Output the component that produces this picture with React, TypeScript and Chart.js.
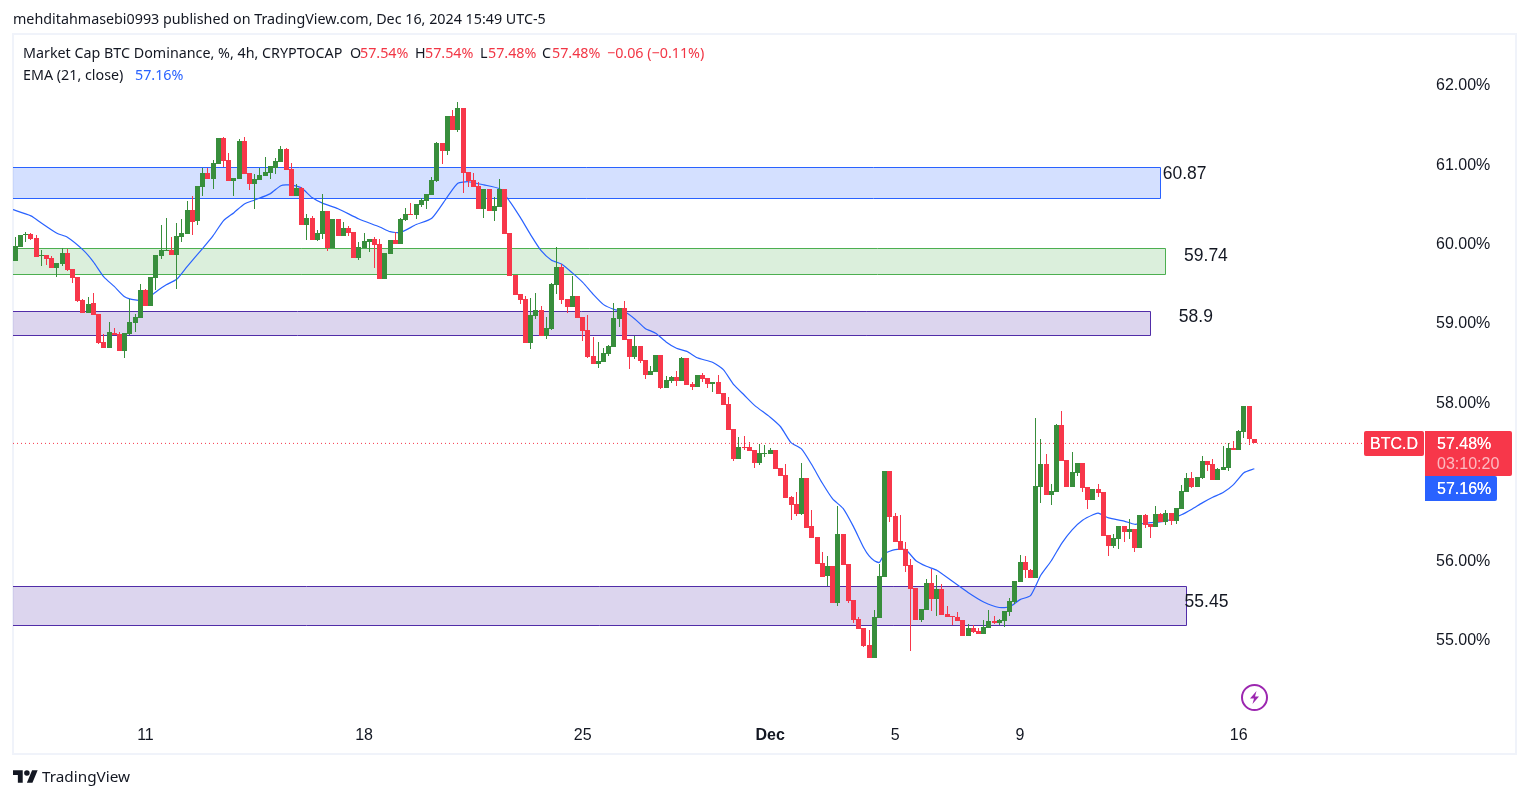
import React, { useEffect, useRef } from "react";
import { Chart, registerables } from "chart.js";

Chart.register(...registerables);

const opens = [
  59.78,59.96,60.11,60.12,60.07,59.84,59.86,59.82,59.69,59.74,
  59.88,59.68,59.58,59.29,59.13,59.25,59.11,58.76,58.68,58.87,
  58.86,58.65,58.86,59.00,59.06,59.41,59.21,59.57,59.84,59.91,
  59.92,59.86,60.08,60.12,60.42,60.29,60.71,60.89,60.81,61.00,
  61.33,61.05,60.79,60.81,61.29,60.89,60.75,60.80,60.85,60.89,
  60.95,61.03,61.19,60.94,60.60,60.70,60.23,60.32,60.05,60.12,
  60.41,59.94,60.31,60.10,60.20,60.15,59.82,59.94,60.02,60.06,
  60.00,59.55,59.87,60.05,60.00,60.30,60.37,60.36,60.49,60.54,
  60.61,60.79,61.27,61.17,61.61,61.43,61.71,60.90,60.80,60.73,
  60.44,60.69,60.41,60.46,60.69,60.13,59.60,59.36,59.30,58.75,
  59.09,59.16,58.83,58.92,59.48,59.70,59.30,59.20,59.34,59.07,
  58.91,58.58,58.48,58.51,58.61,58.70,59.05,59.19,58.80,58.57,
  58.71,58.53,58.34,58.38,58.60,58.18,58.27,58.32,58.27,58.56,
  58.23,58.19,58.34,58.31,58.23,58.25,58.12,57.98,57.66,57.28,
  57.44,57.44,57.40,57.23,57.35,57.35,57.40,57.17,57.08,56.81,
  56.72,56.59,57.04,56.44,56.30,55.97,55.81,55.93,55.47,56.34,
  55.96,55.51,55.27,55.15,54.94,54.77,55.28,55.80,57.13,56.56,
  56.25,56.15,55.95,55.66,55.25,55.38,55.72,55.52,55.64,55.33,
  55.30,55.29,55.25,55.05,55.15,55.11,55.08,55.15,55.24,55.21,
  55.24,55.35,55.48,55.73,55.98,55.88,55.78,56.93,57.22,56.83,
  56.87,57.71,57.27,56.93,57.11,57.23,56.93,56.77,56.91,56.87,
  56.32,56.19,56.27,56.44,56.36,56.40,56.16,56.58,56.46,56.43,
  56.59,56.49,56.60,56.50,56.65,56.87,57.04,56.93,57.04,57.26,
  57.22,57.02,57.15,57.17,57.42,57.40,57.62,57.95,57.54,
];
const highs = [
  60.08,60.11,60.15,60.13,60.11,59.92,59.86,59.84,59.76,59.94,
  59.93,59.68,59.58,59.30,59.33,59.38,59.11,58.86,59.01,58.94,
  58.89,58.87,59.30,59.11,59.49,59.43,59.58,59.86,60.23,60.32,
  60.08,60.26,60.31,60.54,60.60,60.73,60.95,60.95,61.05,61.33,
  61.34,61.14,60.83,61.32,61.34,60.89,60.88,60.95,61.09,60.98,
  61.08,61.23,61.20,61.02,60.75,60.71,60.37,60.35,60.17,60.63,
  60.41,60.31,60.31,60.27,60.22,60.15,60.02,60.13,60.06,60.08,
  60.06,59.88,60.05,60.15,60.32,60.45,60.51,60.50,60.58,60.63,
  60.84,61.28,61.27,61.61,61.68,61.79,61.71,60.90,60.89,60.78,
  60.69,60.69,60.59,60.81,60.69,60.13,59.60,59.36,59.34,59.31,
  59.38,59.21,59.07,59.50,59.96,59.74,59.30,59.59,59.34,59.07,
  59.10,58.82,58.76,58.68,58.72,59.25,59.19,59.28,58.80,58.83,
  58.71,58.53,58.46,58.60,58.60,58.33,58.33,58.39,58.57,58.56,
  58.25,58.34,58.37,58.31,58.25,58.34,58.12,58.07,57.66,57.56,
  57.57,57.50,57.40,57.47,57.46,57.42,57.40,57.17,57.22,56.82,
  56.87,57.23,57.04,56.64,56.30,56.11,56.06,55.93,56.69,56.34,
  55.96,55.51,55.29,55.15,55.13,55.38,55.96,57.13,57.13,56.60,
  56.58,56.24,56.02,55.66,55.39,55.77,55.90,55.82,55.71,55.43,
  55.30,55.35,55.25,55.20,55.19,55.15,55.25,55.38,55.30,55.27,
  55.37,55.53,55.74,56.07,56.06,55.90,57.80,57.54,57.35,56.97,
  57.72,57.89,57.27,57.37,57.23,57.23,56.93,56.91,56.97,56.87,
  56.32,56.34,56.44,56.44,56.53,56.40,56.58,56.59,56.46,56.69,
  56.60,56.64,56.60,56.67,56.96,57.11,57.12,57.06,57.32,57.26,
  57.28,57.17,57.45,57.48,57.51,57.65,57.95,57.95,57.54,
];
const lows = [
  59.78,59.96,60.02,60.05,59.83,59.72,59.73,59.69,59.58,59.72,
  59.65,59.50,59.26,59.13,59.13,59.10,58.73,58.68,58.68,58.85,
  58.65,58.56,58.85,58.89,59.06,59.21,59.21,59.41,59.81,59.91,
  59.86,59.43,60.02,60.12,60.11,60.23,60.60,60.81,60.69,61.00,
  60.97,60.79,60.60,60.81,60.88,60.68,60.44,60.80,60.85,60.81,
  60.88,61.03,60.93,60.60,60.60,60.23,60.05,60.05,60.03,60.06,
  59.91,59.94,60.10,60.10,60.10,59.82,59.79,59.94,59.89,59.69,
  59.55,59.55,59.87,60.00,60.00,60.29,60.36,60.31,60.46,60.44,
  60.61,60.78,61.00,61.12,61.43,61.41,60.64,60.71,60.71,60.44,
  60.32,60.41,60.29,60.46,60.12,59.59,59.35,59.24,58.75,58.67,
  59.05,58.83,58.80,58.91,59.36,59.24,59.13,59.20,59.06,58.77,
  58.56,58.48,58.43,58.51,58.58,58.70,58.95,58.79,58.42,58.54,
  58.49,58.29,58.34,58.38,58.17,58.18,58.24,58.20,58.27,58.22,
  58.15,58.19,58.25,58.18,58.13,58.10,57.97,57.65,57.26,57.28,
  57.40,57.39,57.17,57.21,57.31,57.35,57.16,57.07,56.79,56.51,
  56.57,56.58,56.41,56.29,55.96,55.80,55.68,55.47,55.43,55.95,
  55.47,55.21,55.14,54.91,54.77,54.77,55.28,55.80,56.49,56.24,
  56.14,55.86,54.86,55.25,55.23,55.38,55.37,55.30,55.32,55.29,
  55.19,55.24,55.05,55.05,55.09,55.08,55.08,55.15,55.20,55.19,
  55.17,55.30,55.45,55.73,55.78,55.78,55.78,56.73,56.83,56.70,
  56.87,57.26,56.93,56.93,57.07,56.87,56.65,56.77,56.81,56.31,
  56.06,56.16,56.15,56.24,56.27,56.11,56.16,56.41,56.29,56.43,
  56.49,56.45,56.45,56.46,56.65,56.87,56.92,56.93,57.03,57.13,
  57.02,57.02,57.15,57.13,57.40,57.40,57.55,57.46,57.48,
];
const closes = [
  59.97,60.11,60.12,60.06,59.83,59.86,59.81,59.69,59.76,59.88,
  59.67,59.57,59.28,59.13,59.24,59.10,58.75,58.68,58.89,58.85,
  58.65,58.87,59.01,59.07,59.41,59.21,59.58,59.86,59.92,59.92,
  59.86,60.10,60.13,60.42,60.27,60.73,60.89,60.81,61.02,61.33,
  61.04,60.79,60.83,61.29,60.88,60.75,60.81,60.87,60.90,60.98,
  61.04,61.19,60.93,60.60,60.70,60.23,60.32,60.05,60.13,60.41,
  59.94,60.31,60.10,60.20,60.13,59.82,59.96,60.03,60.06,59.98,
  59.55,59.88,60.05,60.00,60.31,60.37,60.36,60.50,60.55,60.63,
  60.80,61.27,61.17,61.61,61.43,61.71,60.89,60.79,60.71,60.44,
  60.69,60.41,60.47,60.69,60.12,59.59,59.35,59.29,58.75,59.10,
  59.16,58.83,58.94,59.49,59.70,59.29,59.20,59.34,59.06,58.90,
  58.57,58.48,58.52,58.62,58.71,59.06,59.19,58.79,58.57,58.71,
  58.52,58.34,58.39,58.60,58.18,58.28,58.32,58.27,58.56,58.22,
  58.19,58.34,58.29,58.23,58.25,58.10,57.97,57.65,57.28,57.44,
  57.42,57.39,57.23,57.36,57.36,57.40,57.16,57.07,56.79,56.70,
  56.59,57.04,56.41,56.29,55.96,55.80,55.93,55.47,56.34,55.95,
  55.49,55.25,55.14,54.93,54.77,55.29,55.81,57.13,56.55,56.24,
  56.14,55.93,55.64,55.25,55.39,55.72,55.52,55.64,55.32,55.29,
  55.29,55.24,55.05,55.15,55.10,55.08,55.17,55.24,55.21,55.25,
  55.37,55.49,55.74,55.98,55.88,55.78,56.94,57.22,56.83,56.88,
  57.71,57.26,56.93,57.12,57.23,56.92,56.77,56.91,56.86,56.31,
  56.19,56.29,56.44,56.36,56.40,56.16,56.58,56.45,56.43,56.59,
  56.49,56.60,56.50,56.67,56.88,57.04,56.93,57.06,57.26,57.21,
  57.02,57.16,57.18,57.42,57.40,57.64,57.95,57.54,57.48,
];

const emaBars = [
  -1,3,5,8,10,13,15,17,19,21,23,25,27,29,31,33,36,38,40,42,44,46,49,51,53,55,57,59,62,66,70,72,74,77,80,
  83,85,87,90,93,95,97,99,101,103,105,107,109,111,113,115,117,119,121,123,125,127,129,131,134,136,138,140,
  142,145,147,149,151,153,155,157,159,161,163,164,165,166,167,169,171,173,175,177,180,183,186,189,191,193,
  195,197,199,201,203,205,207,208,210,213,215,218,221,224,226,228,230,232,234,236,238,
];
const emaValues = [
  60.44,60.35,60.26,60.13,60.08,59.92,59.77,59.58,59.46,59.33,59.29,59.29,59.39,59.48,59.55,59.71,59.94,60.10,60.29,60.39,60.50,60.55,60.63,60.73,60.74,60.70,60.58,60.51,60.44,60.31,60.21,60.15,60.14,60.24,60.32,
  60.59,60.76,60.78,60.74,60.69,60.53,60.33,60.11,59.91,59.79,59.74,59.63,59.51,59.36,59.23,59.17,59.14,59.05,58.93,58.87,58.76,58.68,58.64,58.56,58.50,58.41,58.22,58.09,
  57.96,57.81,57.69,57.49,57.41,57.21,56.98,56.78,56.66,56.43,56.16,56.06,56.00,55.98,56.09,56.14,56.14,56.00,55.93,55.88,55.74,55.60,55.48,55.41,55.42,55.51,
  55.56,55.82,56.00,56.22,56.39,56.51,56.58,56.60,56.54,56.50,56.46,56.48,56.50,56.58,56.65,56.73,56.80,56.86,56.96,57.11,57.16,
];

const priceTicks = [55, 56, 57, 58, 59, 60, 61, 62];
const dateTickBars = [25, 67, 109, 145, 169, 193, 235];
const dateTickLabels = ["11", "18", "25", "Dec", "5", "9", "16"];

const zoneTops = [60.96, 59.94, 59.14, 55.68];
const zoneBottoms = [60.57, 59.61, 58.84, 55.18];
const zoneEndBars = [219.85, 220.9, 218, 224.85];
const zoneFills = ["rgba(41,98,255,0.2)", "rgba(76,175,80,0.2)", "rgba(81,45,168,0.2)", "rgba(81,45,168,0.2)"];
const zoneBorders = ["#2962ff", "#4caf50", "#512da8", "#512da8"];
const zoneLabels = ["60.87", "59.74", "58.9", "55.45"];
const zoneLabelBars = [220.4, 224.5, 223.5, 224.6];
const zoneLabelPrices = [60.88, 59.84, 59.07, 55.48];

const lastClose = 57.48;
const UP = "#388e3c";
const DOWN = "#f7374a";
const RED_TEXT = "#f23645";
const BLUE = "#2962ff";
const FONT = "'Noto Sans', sans-serif";
const ARIAL = "'Liberation Sans', Arial, sans-serif";

function abs(style: React.CSSProperties, text: React.ReactNode) {
  return <div style={{ position: "absolute", whiteSpace: "pre", ...style }}>{text}</div>;
}

const snapBars = {
  id: "snapBars",
  beforeDatasetsDraw(chart: any) {
    for (const meta of chart.getSortedVisibleDatasetMetas()) {
      if (meta.type !== "bar") continue;
      for (const el of meta.data) {
        el.x = Math.round(el.x - 2.5) + 2.5;
        const top = Math.round(Math.min(el.y, el.base));
        let bottom = Math.round(Math.max(el.y, el.base));
        if (bottom - top < 1) bottom = top + 1;
        el.y = top;
        el.base = bottom;
      }
    }
  },
};

const zonesPlugin = {
  id: "zones",
  beforeDatasetsDraw(chart: any) {
    const { ctx, scales, chartArea } = chart;
    const x = scales.x;
    const y = scales.y;
    ctx.save();
    zoneTops.forEach((top, i) => {
      const t = Math.floor(y.getPixelForValue(top)) + 0.5;
      const b = Math.floor(y.getPixelForValue(zoneBottoms[i])) + 0.5;
      const r = Math.round(x.getPixelForValue(zoneEndBars[i])) + 0.5;
      const l = chartArea.left;
      ctx.fillStyle = zoneFills[i];
      ctx.fillRect(l, t, r - l, b - t);
      ctx.strokeStyle = zoneBorders[i];
      ctx.lineWidth = 1;
      ctx.beginPath();
      ctx.moveTo(l, t);
      ctx.lineTo(r, t);
      ctx.lineTo(r, b);
      ctx.lineTo(l, b);
      ctx.stroke();
    });
    ctx.restore();
  },
  afterDatasetsDraw(chart: any) {
    const { ctx, scales } = chart;
    ctx.save();
    ctx.font = "17.5px " + ARIAL;
    ctx.fillStyle = "#131722";
    ctx.textBaseline = "middle";
    ctx.textAlign = "left";
    zoneLabels.forEach((label, i) => {
      ctx.fillText(label, scales.x.getPixelForValue(zoneLabelBars[i]), scales.y.getPixelForValue(zoneLabelPrices[i]));
    });
    ctx.restore();
  },
};

export default function App() {
  const ref = useRef<HTMLCanvasElement>(null);
  useEffect(() => {
    document.body.style.margin = "0";
    document.body.style.overflow = "hidden";
    const bars = opens.map((_, i) => i);
    const colors = bars.map((i) => (closes[i] >= opens[i] ? UP : DOWN));
    const chart = new Chart(ref.current!, {
      type: "bar",
      data: {
        datasets: [
          {
            type: "bar",
            label: "Body",
            data: bars.map((i) => ({ x: i, y: [opens[i], closes[i]] })),
            backgroundColor: colors,
            barThickness: 5,
            grouped: false,
            inflateAmount: 0,
            order: 1,
          },
          {
            type: "bar",
            label: "Wick",
            data: bars.map((i) => ({ x: i, y: [lows[i], highs[i]] })),
            backgroundColor: colors,
            barThickness: 1,
            grouped: false,
            inflateAmount: 0,
            order: 2,
          },
          {
            type: "line",
            label: "EMA (21, close)",
            data: emaBars.map((b, i) => ({ x: b, y: emaValues[i] })),
            borderColor: BLUE,
            borderWidth: 1.2,
            pointRadius: 0,
            tension: 0.2,
            order: 3,
          },
          {
            type: "line",
            label: "Last price",
            data: [
              { x: -0.44, y: lastClose },
              { x: 259, y: lastClose },
            ],
            borderColor: DOWN,
            borderWidth: 1,
            borderDash: [1, 3],
            pointRadius: 0,
            order: 4,
          },
        ] as any,
      },
      plugins: [zonesPlugin, snapBars] as any,
      options: {
        animation: false,
        responsive: false,
        maintainAspectRatio: false,
        layout: { padding: { left: 13, top: 36, right: 12, bottom: 44 } },
        plugins: { legend: { display: false }, tooltip: { enabled: false }, title: { display: false } },
        scales: {
          x: {
            type: "linear",
            offset: false,
            min: -0.442,
            max: 270.78,
            grid: { display: false, drawTicks: false },
            border: { display: false },
            afterBuildTicks(axis: any) {
              axis.ticks = dateTickBars.map((value) => ({ value }));
            },
            afterFit(axis: any) {
              axis.height = 38;
            },
            ticks: {
              autoSkip: false,
              maxRotation: 0,
              padding: 10,
              color: "#131722",
              font: (c: any) => ({
                family: ARIAL,
                size: 16,
                weight: dateTickBars.indexOf(c.tick?.value) === 3 ? "bold" : "normal",
              }),
              callback: (v: any) => dateTickLabels[dateTickBars.indexOf(v)] ?? "",
            },
          },
          y: {
            type: "linear",
            position: "right",
            min: 54.042,
            max: 62.618,
            grid: { display: false, drawTicks: false },
            border: { display: false },
            afterBuildTicks(axis: any) {
              axis.ticks = priceTicks.map((value) => ({ value }));
            },
            afterFit(axis: any) {
              axis.width = 92;
            },
            ticks: {
              padding: 11,
              labelOffset: 1,
              color: "#131722",
              font: { family: ARIAL, size: 16 },
              callback: (v: any) => Number(v).toFixed(2) + "%",
            },
          },
        },
      } as any,
    });
    return () => chart.destroy();
  }, []);

  const base: React.CSSProperties = { fontFamily: FONT, fontSize: 14.3, color: "#131722" };
  const red: React.CSSProperties = { ...base, color: RED_TEXT, top: 43 };
  const dark: React.CSSProperties = { ...base, top: 43 };
  const tagFont: React.CSSProperties = {
    fontFamily: ARIAL,
    fontSize: 16,
    color: "#fff",
    textAlign: "left",
    lineHeight: "19px",
    textShadow: "0 0 0.6px #fff",
  };
  return (
    <div style={{ position: "absolute", left: 0, top: 0, width: 1529, height: 798, background: "#fff", overflow: "hidden" }}>
      <div
        style={{
          position: "absolute",
          left: 12,
          top: 33,
          width: 1501,
          height: 718,
          border: "2px solid #f0f3fa",
        }}
      />
      <canvas ref={ref} width={1529} height={798} style={{ position: "absolute", left: 0, top: 0, display: "block" }} />
      {abs({ ...base, left: 13, top: 9 }, "mehditahmasebi0993 published on TradingView.com, Dec 16, 2024 15:49 UTC-5")}
      {abs({ ...dark, left: 23 }, "Market Cap BTC Dominance, %, 4h, CRYPTOCAP")}
      {abs({ ...dark, left: 350 }, "O")}
      {abs({ ...red, left: 360 }, "57.54%")}
      {abs({ ...dark, left: 415 }, "H")}
      {abs({ ...red, left: 425 }, "57.54%")}
      {abs({ ...dark, left: 480 }, "L")}
      {abs({ ...red, left: 488 }, "57.48%")}
      {abs({ ...dark, left: 542 }, "C")}
      {abs({ ...red, left: 552 }, "57.48%")}
      {abs({ ...red, left: 607 }, "−0.06 (−0.11%)")}
      {abs({ ...base, left: 23, top: 65 }, "EMA (21, close)")}
      {abs({ ...base, left: 135, top: 65, color: BLUE }, "57.16%")}
      <div style={{ position: "absolute", left: 1364, top: 431, width: 60, height: 25, background: DOWN, borderRadius: 2 }} />
      <div style={{ position: "absolute", left: 1425, top: 431, width: 87, height: 45, background: DOWN, borderRadius: "0 2px 2px 0" }} />
      <div style={{ position: "absolute", left: 1425, top: 476, width: 72, height: 25, background: BLUE, borderRadius: "0 2px 2px 0" }} />
      {abs({ ...tagFont, left: 1364, top: 434, width: 60, textAlign: "center" }, "BTC.D")}
      {abs({ ...tagFont, left: 1437, top: 434 }, "57.48%")}
      {abs({ ...tagFont, left: 1437, top: 454, color: "rgba(255,255,255,0.65)", textShadow: "none" }, "03:10:20")}
      {abs({ ...tagFont, left: 1437, top: 479 }, "57.16%")}
      <svg style={{ position: "absolute", left: 1241, top: 684 }} width="27" height="27" viewBox="0 0 27 27">
        <circle cx="13.5" cy="13.5" r="12.5" fill="none" stroke="#9c27b0" strokeWidth="2" />
        <path d="M15.5 7 L9 14.5 H13 L11.5 20 L18 12.5 H14 Z" fill="#9c27b0" />
      </svg>
      <svg style={{ position: "absolute", left: 13, top: 770 }} width="25" height="13" viewBox="0 0 36 18">
        <path d="M14 18H7V7H0V0h14v18zM28 18h-8l7.5-18h8L28 18z" fill="#131722" />
        <circle cx="20" cy="4" r="4" fill="#131722" />
      </svg>
      {abs({ ...base, left: 42, top: 766, fontSize: 15.3 }, "TradingView")}
    </div>
  );
}
